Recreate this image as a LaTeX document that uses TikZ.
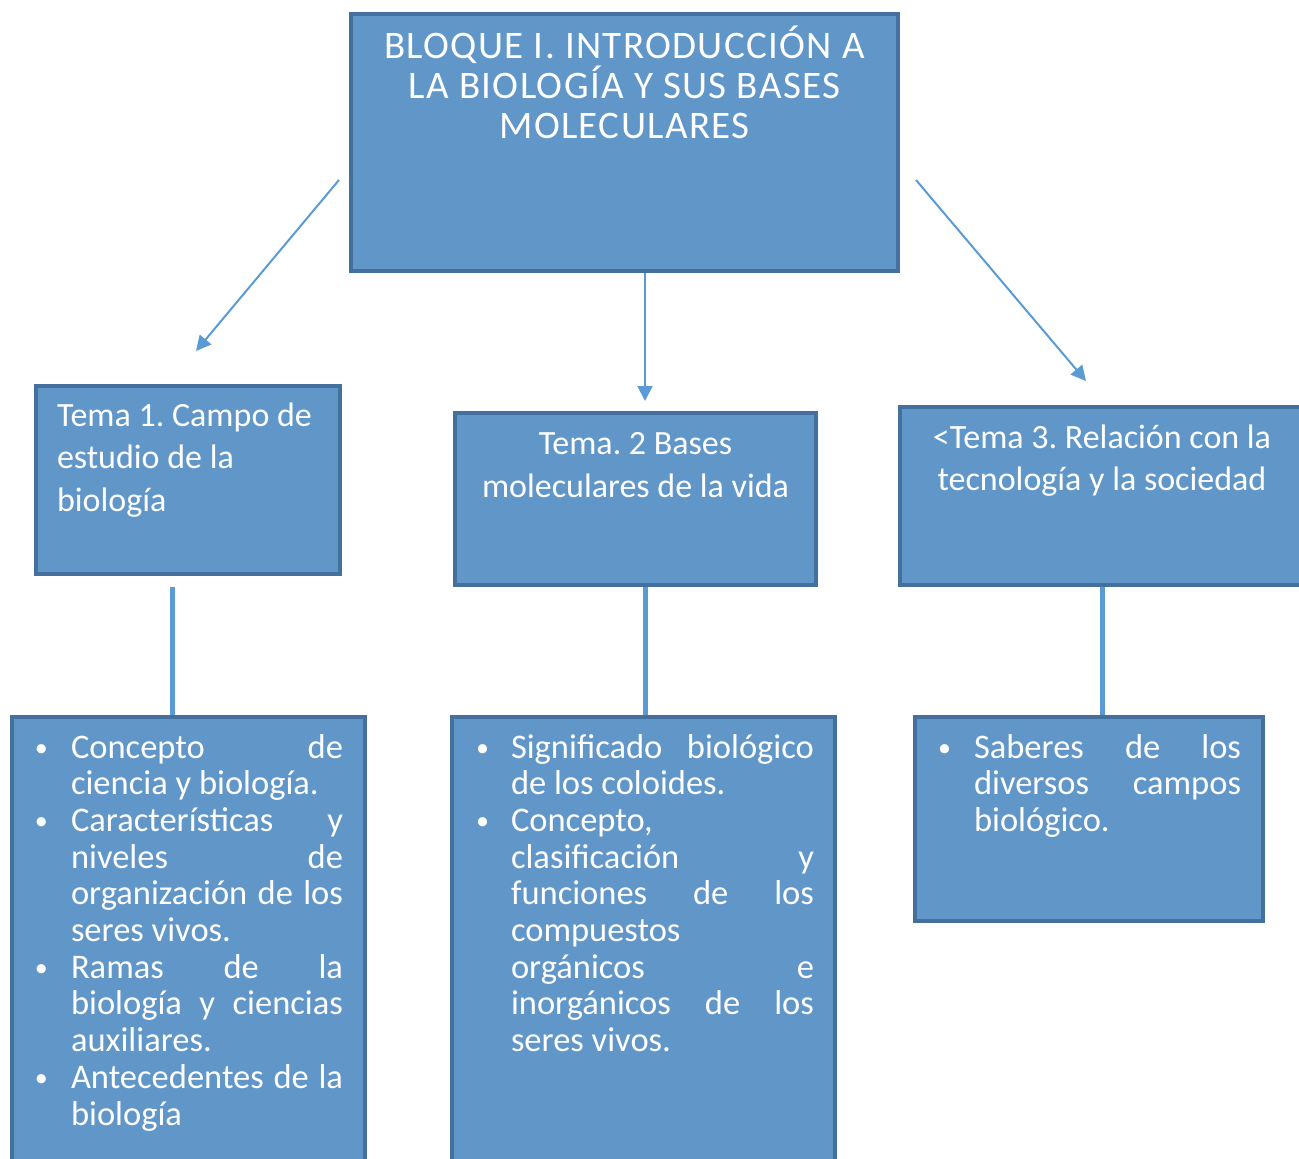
\documentclass[tikz,border=0pt]{standalone}
\usepackage{fontspec}
\setmainfont{Carlito}
\usetikzlibrary{arrows.meta}

\definecolor{fondoazul}{RGB}{97,150,201}
\definecolor{bordeazul}{RGB}{67,112,157}
\definecolor{lineaazul}{RGB}{91,155,213}

\tikzset{
    caja/.style={draw=bordeazul, fill=fondoazul, line width=4pt, inner sep=0pt, text=white},
    flecha/.style={draw=lineaazul, line width=2pt, -{Triangle[length=15pt,width=15pt]}},
    union/.style={draw=lineaazul, line width=5pt}
}

% punto de lista con sangria francesa
\newcommand{\vineta}[1]{\par\noindent\hangindent=#1\hangafter=1\makebox[#1][l]{\hspace{1pt}\raisebox{1.5pt}{\fontsize{26}{26}\selectfont\textbullet}}}
\newcommand{\listafmt}{\parindent=0pt\tolerance=10000\hyphenpenalty=10000\fontsize{34.5}{36.7}\selectfont}
\frenchspacing

\begin{document}
\begin{tikzpicture}[x=1pt, y=-1pt]
        \useasboundingbox (0,0) rectangle (1299,1159);
        \clip (0,0) rectangle (1299,1159);

        % bloque
        \node[caja] (bloque) at (624.5,142.5) {\parbox[c][257pt][t]{547pt}{\centering
            \fontsize{39}{40}\selectfont\addfontfeature{LetterSpace=3.5}%
            \rule{0pt}{44pt}BLOQUE I. INTRODUCCIÓN A\\ LA BIOLOGÍA Y SUS BASES\\ MOLECULARES}};

        % temas
        \node[caja] (tema1) at (188,480) {\parbox[c][188pt][t]{304pt}{\raggedright\leftskip=21pt
            \fontsize{34}{42.5}\selectfont
            \rule{0pt}{40pt}Tema 1. Campo de\\ estudio de la\\ biología}};
        \node[caja] (tema2) at (635.5,499) {\parbox[c][172pt][t]{361pt}{\centering
            \fontsize{34}{43}\selectfont
            \rule{0pt}{41pt}Tema. 2 Bases\\ moleculares de la vida}};
        \node[caja] (tema3) at (1102,496) {\parbox[c][178pt][t]{404pt}{\centering
            \fontsize{34}{42}\selectfont
            \rule{0pt}{41pt}<Tema 3. Relación con la\\ tecnología y la sociedad}};

        % listas
        \node[caja] (lista1) at (188.5,967) {\parbox[c][500pt][t]{353pt}{\listafmt
            \leftskip=22pt\rightskip=22pt
            \vineta{37pt}\rule{0pt}{41pt}Concepto de\linebreak ciencia y biología.
            \vineta{37pt}Características y\linebreak niveles de\linebreak organización de los\linebreak seres vivos.
            \vineta{37pt}Ramas de la\linebreak biología y ciencias\linebreak auxiliares.
            \vineta{37pt}Antecedentes de la\linebreak biología\par}};
        \node[caja] (lista2) at (643.5,967) {\parbox[c][500pt][t]{383pt}{\listafmt
            \leftskip=23pt\rightskip=21pt
            \vineta{36pt}\rule{0pt}{41pt}Significado biológico\linebreak de los coloides.
            \vineta{36pt}Concepto,\linebreak clasificación y\linebreak funciones de los\linebreak compuestos\newline orgánicos e\linebreak inorgánicos de los\linebreak seres vivos.\par}};
        \node[caja] (lista3) at (1089,819) {\parbox[c][204pt][t]{348pt}{\listafmt
            \leftskip=22pt\rightskip=22pt
            \vineta{37pt}\rule{0pt}{41pt}Saberes de los\linebreak diversos campos\linebreak biológico.\par}};

        % flechas
        \draw[flecha] ([shift={(-10,37.5)}]bloque.west) -- ([shift={(8,-33)}]tema1.north);
        \draw[flecha] ([xshift=20.5pt]bloque.south) -- ([xshift=9.5pt,yshift=10pt]tema2.north);
        \draw[flecha] ([shift={(16,37.5)}]bloque.east) -- ([shift={(-16,-24)}]tema3.north);

        % uniones
        \draw[union] ([shift={(-16,11)}]tema1.south) -- ([xshift=-16.5pt]lista1.north);
        \draw[union] ([xshift=9.5pt]tema2.south) -- ([xshift=1.5pt]lista2.north);
        \draw[union] (tema3.south) -- ([xshift=13pt]lista3.north);
\end{tikzpicture}
\end{document}
